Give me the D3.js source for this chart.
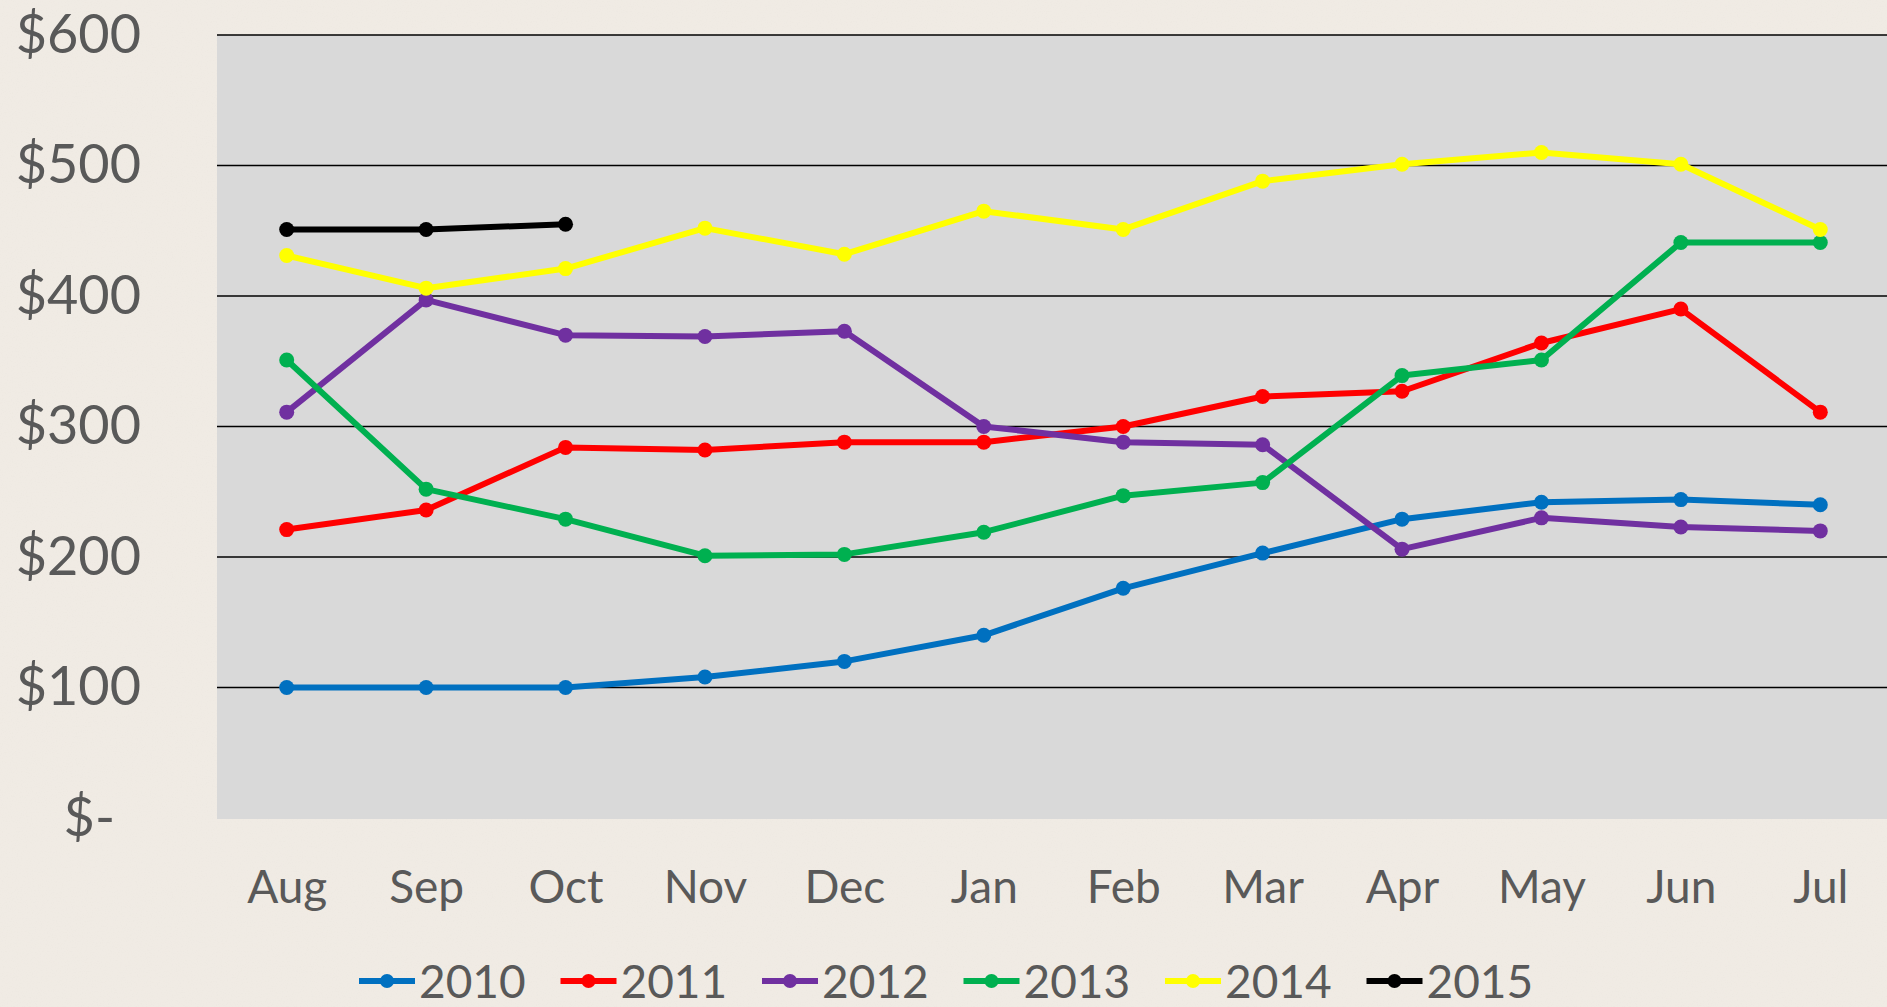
<!DOCTYPE html>
<html>
<head>
<meta charset="utf-8">
<script src="https://cdn.jsdelivr.net/npm/d3@7"></script>
<style>
  html, body { margin: 0; padding: 0; background: #efe9e1; overflow: hidden; }
  svg { display: block; }
</style>
</head>
<body>
<div id="chart"></div>
<script>
// Months on the x axis (fiscal year Aug–Jul)
const months = ["Aug", "Sep", "Oct", "Nov", "Dec", "Jan", "Feb", "Mar", "Apr", "May", "Jun", "Jul"];

// One array per year
const y2010 = [100, 100, 100, 108, 120, 140, 176, 203, 229, 242, 244, 240];
const y2011 = [221, 236, 284, 282, 288, 288, 300, 323, 327, 364, 390, 311];
const y2012 = [311, 397, 370, 369, 373, 300, 288, 286, 206, 230, 223, 220];
const y2013 = [351, 252, 229, 201, 202, 219, 247, 257, 339, 351, 441, 441];
const y2014 = [431, 406, 421, 452, 432, 465, 451, 488, 501, 510, 501, 451];
const y2015 = [451, 451, 455];

const seriesNames = ["2010", "2011", "2012", "2013", "2014", "2015"];
const seriesColors = ["#0070c0", "#ff0000", "#7030a0", "#00b050", "#ffff00", "#000000"];
const yTicks = [0, 100, 200, 300, 400, 500, 600];

const series = [y2010, y2011, y2012, y2013, y2014, y2015].map((vals, i) => ({
  name: seriesNames[i],
  color: seriesColors[i],
  values: vals.map((v, j) => ({ month: months[j], value: v }))
}));

const W = 1887, H = 1007;
const margin = { top: 35, right: -3, bottom: 189, left: 217 };
const textColor = "#595959";
const font = "Lato, 'Open Sans', sans-serif";

const svg = d3.select("#chart").append("svg")
  .attr("width", W)
  .attr("height", H);

// parchment-ish background texture
const defs = svg.append("defs");
const filt = defs.append("filter").attr("id", "paper").attr("x", 0).attr("y", 0).attr("width", "100%").attr("height", "100%");
filt.append("feTurbulence").attr("type", "fractalNoise").attr("baseFrequency", 0.8).attr("numOctaves", 2).attr("seed", 3);
filt.append("feColorMatrix").attr("type", "matrix")
  .attr("values", "0 0 0 0 0.80  0 0 0 0 0.76  0 0 0 0 0.70  0 0 0 -1.1 0.55");
filt.append("feComposite").attr("in2", "SourceGraphic").attr("operator", "in");

svg.append("rect").attr("width", W).attr("height", H).attr("fill", "#f0ebe4");
svg.append("rect").attr("width", W).attr("height", H).attr("fill", "#f0ebe4").attr("filter", "url(#paper)").attr("opacity", 0.6);

const width = W - margin.left - margin.right;
const height = H - margin.top - margin.bottom;

const g = svg.append("g").attr("transform", `translate(${margin.left},${margin.top})`);

const x = d3.scalePoint().domain(months).range([0, width]).padding(0.5);
const y = d3.scaleLinear().domain([0, 600]).range([height, 0]);

// plot area
g.append("rect")
  .attr("width", width)
  .attr("height", height + 1)
  .attr("fill", "#d9d9d9");

// gridlines
g.selectAll(".grid")
  .data(yTicks.filter(d => d > 0))
  .enter().append("line")
  .attr("x1", 0).attr("x2", width)
  .attr("y1", d => y(d)).attr("y2", d => y(d))
  .attr("stroke", "#000")
  .attr("stroke-width", 1.6);

// y axis labels
const yAxis = g.append("g")
  .call(d3.axisLeft(y).tickValues(yTicks).tickSize(0).tickPadding(76)
    .tickFormat(d => d === 0 ? "$-" : "$" + d));
yAxis.select(".domain").remove();
yAxis.selectAll("text")
  .attr("fill", textColor)
  .style("font-family", font)
  .style("font-size", "54px")
  .attr("dx", d => d === 0 ? -26 : 0);

// x axis labels
const xAxis = g.append("g")
  .attr("transform", `translate(0,${height})`)
  .call(d3.axisBottom(x).tickSize(0).tickPadding(52));
xAxis.select(".domain").remove();
xAxis.selectAll("text")
  .attr("fill", textColor)
  .style("font-family", font)
  .style("font-size", "46px");

// lines
const line = d3.line().x(d => x(d.month)).y(d => y(d.value));

const sg = g.selectAll(".series")
  .data(series)
  .enter().append("g");

sg.append("path")
  .attr("d", d => line(d.values))
  .attr("fill", "none")
  .attr("stroke", d => d.color)
  .attr("stroke-width", 6)
  .attr("stroke-linejoin", "round");

sg.selectAll("circle")
  .data(d => d.values.map(v => ({ ...v, color: d.color })))
  .enter().append("circle")
  .attr("cx", d => x(d.month))
  .attr("cy", d => y(d.value))
  .attr("r", 7.5)
  .attr("fill", d => d.color);

// legend
const legend = svg.append("g").attr("transform", "translate(359,981)");
const li = legend.selectAll("g")
  .data(series)
  .enter().append("g")
  .attr("transform", (d, i) => `translate(${i * 201.5},0)`);

li.append("line")
  .attr("x1", 0).attr("x2", 56)
  .attr("stroke", d => d.color)
  .attr("stroke-width", 6);
li.append("circle")
  .attr("cx", 28).attr("r", 7)
  .attr("fill", d => d.color);
li.append("text")
  .attr("x", 60)
  .attr("dy", "0.36em")
  .attr("fill", textColor)
  .style("font-family", font)
  .style("font-size", "46px")
  .text(d => d.name);
</script>
</body>
</html>
